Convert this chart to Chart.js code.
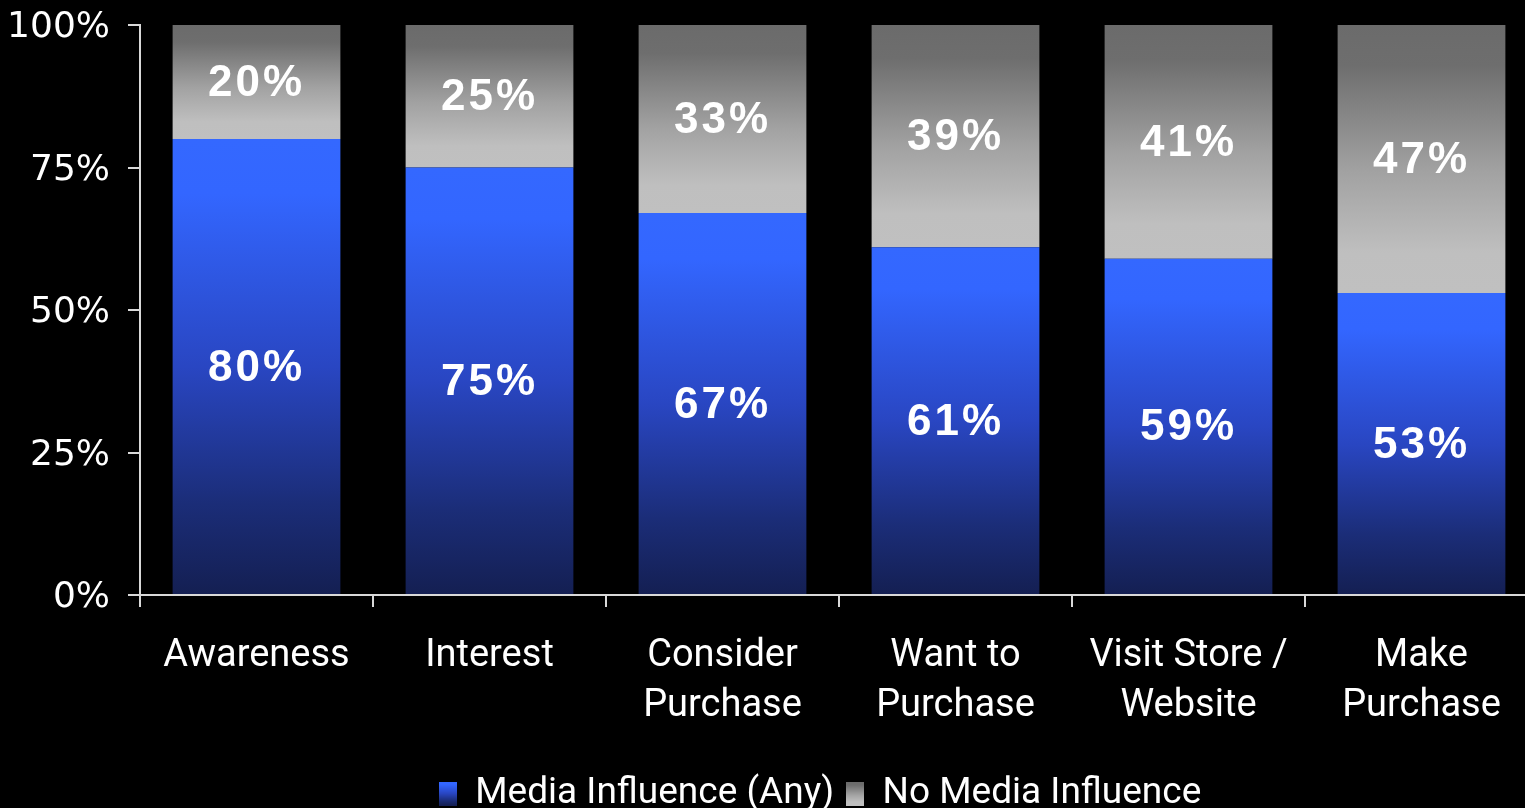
<!DOCTYPE html>
<html>
<head>
<meta charset="utf-8">
<script src="https://cdn.jsdelivr.net/npm/chart.js@4.4.1/dist/chart.umd.min.js"></script>
<style>
  html, body { margin: 0; padding: 0; background: #000; overflow: hidden; }
  #wrap { position: relative; width: 1640px; height: 822px; }
</style>
</head>
<body>
<div id="wrap"><canvas id="chart"></canvas></div>
<script>
// funnel stages and shares (%)
const stages = [['Awareness'], ['Interest'], ['Consider', 'Purchase'], ['Want to', 'Purchase'], ['Visit Store /', 'Website'], ['Make', 'Purchase']];
const mediaInfluence = [80, 75, 67, 61, 59, 53];
const noMediaInfluence = [20, 25, 33, 39, 41, 47];
const yTicks = [0, 25, 50, 75, 100];

// gradient stops, top -> bottom of each segment
const blueStops = [[0, '#3468ff'], [0.12, '#3366ff'], [0.5, '#2946c2'], [0.8, '#1b2d78'], [1, '#141f52']];
const greyStops = [[0, '#6b6b6b'], [0.15, '#6e6e6e'], [0.55, '#a2a2a2'], [0.85, '#bfbfbf'], [1, '#c0c0c0']];

// small gradient swatch for the legend
function makeSwatch(stops) {
    const c = document.createElement('canvas');
    c.width = 18;
    c.height = 24;
    const g = c.getContext('2d');
    const grad = g.createLinearGradient(0, 0, 0, 24);
    stops.forEach(s => grad.addColorStop(s[0], s[1]));
    g.fillStyle = grad;
    g.fillRect(0, 0, 18, 24);
    return c;
}

// vertical gradient spanning one stacked segment
function segmentFill(stops, lowerOf) {
    return function(context) {
        const chart = context.chart;
        if (!chart.chartArea || context.dataIndex === undefined) return stops[1][1];
        const y = chart.scales.y;
        const i = context.dataIndex;
        const low = lowerOf(i);
        const high = low + context.dataset.data[i];
        const grad = chart.ctx.createLinearGradient(0, y.getPixelForValue(high), 0, y.getPixelForValue(low));
        stops.forEach(s => grad.addColorStop(s[0], s[1]));
        return grad;
    };
}

// value labels in the middle of every segment
const segmentLabels = {
    id: 'segmentLabels',
    afterDatasetsDraw(chart) {
        const ctx = chart.ctx;
        ctx.save();
        ctx.fillStyle = '#fff';
        ctx.font = 'bold 44px "Liberation Sans", Arial, sans-serif';
        ctx.letterSpacing = '3px';
        ctx.textAlign = 'center';
        ctx.textBaseline = 'middle';
        chart.data.datasets.forEach((ds, di) => {
            chart.getDatasetMeta(di).data.forEach((bar, i) => {
                const p = bar.getProps(['x', 'y', 'base'], true);
                ctx.fillText(ds.data[i] + '%', p.x, (p.y + p.base) / 2 + 2);
            });
        });
        ctx.restore();
    }
};

const axisColor = '#d9d9d9';

new Chart(document.getElementById('chart'), {
    type: 'bar',
    data: {
        labels: stages,
        datasets: [{
            label: 'Media Influence (Any)',
            data: mediaInfluence,
            backgroundColor: segmentFill(blueStops, () => 0),
            pointStyle: makeSwatch(blueStops),
            barPercentage: 0.72,
            categoryPercentage: 1
        }, {
            label: 'No Media Influence',
            data: noMediaInfluence,
            backgroundColor: segmentFill(greyStops, i => mediaInfluence[i]),
            pointStyle: makeSwatch(greyStops),
            barPercentage: 0.72,
            categoryPercentage: 1
        }]
    },
    options: {
        responsive: true,
        maintainAspectRatio: false,
        animation: false,
        layout: { padding: { left: 0, top: 25, right: 0, bottom: 0 } },
        scales: {
            x: {
                stacked: true,
                grid: { drawOnChartArea: false, drawTicks: true, tickLength: 12, color: axisColor, lineWidth: 2, offset: true },
                border: { color: axisColor, width: 2 },
                ticks: {
                    color: '#fff',
                    font: { family: 'Roboto', size: 38, lineHeight: 1.3 },
                    padding: 25,
                    maxRotation: 0,
                    autoSkip: false
                },
                afterFit(scale) { scale.height = 168; }
            },
            y: {
                stacked: true,
                min: 0,
                max: 100,
                grid: { drawOnChartArea: false, drawTicks: true, tickLength: 12, color: axisColor, lineWidth: 2 },
                border: { color: axisColor, width: 2 },
                afterBuildTicks(scale) { scale.ticks = yTicks.map(v => ({ value: v })); },
                ticks: {
                    color: '#fff',
                    font: { family: 'DejaVu Sans', size: 36, lineHeight: 0.33 },
                    padding: 18,
                    labelOffset: 3,
                    callback: v => v + '%'
                },
                afterFit(scale) { scale.width = 140; }
            },
            // empty right-hand gutter, keeps the legend centred where it belongs
            gutter: {
                position: 'right',
                display: true,
                grid: { display: false },
                border: { display: false },
                ticks: { display: false },
                afterFit(scale) { scale.width = 102; }
            }
        },
        plugins: {
            tooltip: { enabled: false },
            legend: {
                position: 'bottom',
                labels: {
                    color: '#fff',
                    font: { family: 'Roboto', size: 37 },
                    usePointStyle: true,
                    pointStyleWidth: 18,
                    boxHeight: 24,
                    padding: 12
                }
            }
        }
    },
    plugins: [segmentLabels]
});
</script>
</body>
</html>
